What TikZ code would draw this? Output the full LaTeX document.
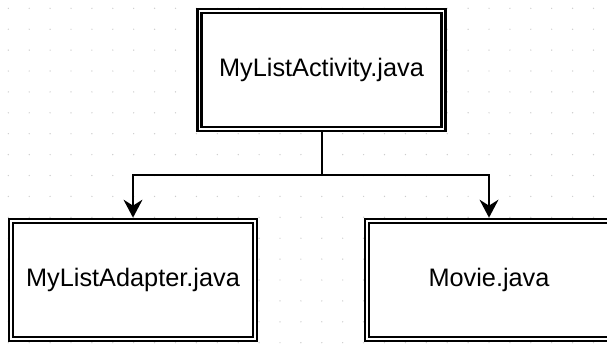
\documentclass[tikz,border=0pt]{standalone}
\usepackage{fontspec}
\setmainfont{Liberation Sans}
\usetikzlibrary{arrows.meta}

\begin{document}
\begin{tikzpicture}[x=1pt, y=-1pt,
        filebox/.style={draw, fill=white, line width=2.2pt, double, double distance=1.8pt,
            minimum width=244pt, minimum height=118pt, inner sep=0pt, outer sep=3.1pt,
            font=\fontsize{25.3}{30}\selectfont},
        link/.style={line width=2pt, -{Stealth[length=18pt, width=19pt, inset=6pt]}}]
                \useasboundingbox (0,0) rectangle (607,343);
                \clip (0,0) rectangle (607,343);
                \fill[white] (0,0) rectangle (607,343);
                % dotted grid
                \foreach \i in {0,...,28}
                    \foreach \j in {0,...,16}
                        \fill[gray!40] (8.3+20.9*\i, 8.3+20.9*\j) circle (0.7pt);
                \node[filebox] (activity) at (321.5,70.25) {MyListActivity.java};
                \node[filebox] (adapter) at (133,279.75) {MyListAdapter.java};
                \node[filebox] (movie) at (489,279.75) {Movie.java};
                \coordinate (fork) at (321.5,175);
                \draw[link] (activity.south) -- (fork) -| (adapter.north);
                \draw[link] (fork) -| (movie.north);
            \end{tikzpicture}
\end{document}
